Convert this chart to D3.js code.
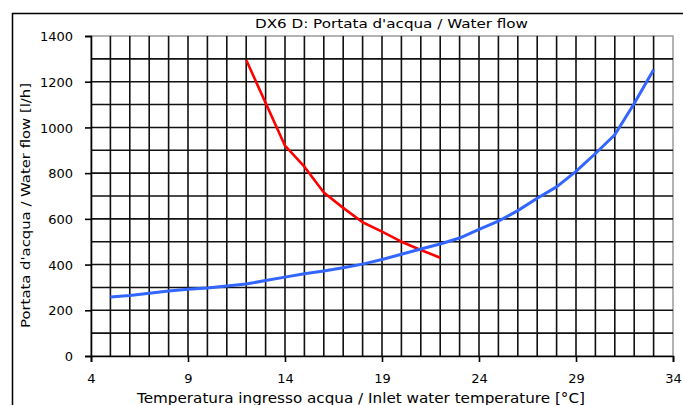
<!DOCTYPE html>
<html>
<head>
<meta charset="utf-8">
<script src="https://cdn.jsdelivr.net/npm/d3@7"></script>
<style>
  html, body { margin: 0; padding: 0; background: #fff; }
  svg { display: block; }
  text { font-family: "DejaVu Sans", Tahoma, sans-serif; fill: #000; }
</style>
</head>
<body>
<svg id="chart" width="683" height="405"></svg>
<script>
// ---- data ----
const title = "DX6  D: Portata d'acqua / Water flow";
const xLabel = "Temperatura ingresso acqua / Inlet water temperature [°C]";
const yLabel = "Portata d'acqua / Water flow [l/h]";

const xTicks = [4, 9, 14, 19, 24, 29, 34];
const yTicks = [0, 200, 400, 600, 800, 1000, 1200, 1400];

// red series
const redX = [12, 14, 15, 16, 17, 18, 19, 20, 21, 22];
const redY = [1295, 920, 828, 715, 648, 585, 544, 500, 464, 430];

// blue series
const blueX = [5, 6, 7, 8, 9, 10, 11, 12, 13, 14, 15, 16, 17, 18, 19,
               20, 21, 22, 23, 24, 25, 26, 27, 28, 29, 30, 31, 32, 33];
const blueY = [258, 265, 275, 284, 292, 298, 306, 315, 330, 345, 360, 372, 386, 402, 422,
               445, 468, 490, 516, 554, 590, 636, 690, 740, 808, 886, 968, 1105, 1252];

// ---- drawing ----
const svg = d3.select("#chart");
const W = 683, H = 405;
const L = 91, R = 673, T = 36, B = 356;

const x = d3.scaleLinear().domain([4, 34]).range([L, R]);
const y = d3.scaleLinear().domain([0, 1400]).range([B, T]);

svg.append("rect").attr("width", W).attr("height", H).attr("fill", "#fff");

// outer chart border (extends past right/bottom edge)
svg.append("rect")
  .attr("x", 12.5).attr("y", 13.5)
  .attr("width", W + 20).attr("height", H + 20)
  .attr("fill", "none").attr("stroke", "#000").attr("stroke-width", 1.5);

// plot area border (grey)
svg.append("rect")
  .attr("x", L).attr("y", T).attr("width", R - L).attr("height", B - T)
  .attr("fill", "#fff").attr("stroke", "#9a9a9a").attr("stroke-width", 1.5);

// grid
const gx = d3.range(5, 34, 1);
const gy = d3.range(100, 1400, 100);
svg.append("g").selectAll("line").data(gx).join("line")
  .attr("x1", d => x(d)).attr("x2", d => x(d))
  .attr("y1", T).attr("y2", B)
  .attr("stroke", "#111").attr("stroke-width", 1.6);
svg.append("g").selectAll("line").data(gy).join("line")
  .attr("x1", L).attr("x2", R)
  .attr("y1", d => y(d)).attr("y2", d => y(d))
  .attr("stroke", "#111").attr("stroke-width", 1.6);

// axes
const xAxis = d3.axisBottom(x).tickValues(xTicks).tickSize(6).tickPadding(8).tickFormat(d3.format("d"));
const yAxis = d3.axisLeft(y).tickValues(yTicks).tickSize(6).tickPadding(12).tickFormat(d3.format("d"));

const gX = svg.append("g").attr("transform", `translate(0,${B})`).call(xAxis);
const gY = svg.append("g").attr("transform", `translate(${L},0)`).call(yAxis);
[gX, gY].forEach(g => {
  g.select(".domain").attr("stroke", "#000").attr("stroke-width", 1.6);
  g.selectAll(".tick line").attr("stroke", "#000").attr("stroke-width", 1.6);
  g.selectAll(".tick text").attr("fill", "#000")
    .style("font-family", '"DejaVu Sans", Tahoma, sans-serif').style("font-size", "13px");
});
gX.selectAll(".tick text").attr("dy", null).attr("y", 27);
gY.selectAll(".tick text").attr("dy", "0.36em");

// series
const line = d3.line().x(d => x(d[0])).y(d => y(d[1]));
const redPts = redX.map((v, i) => [v, redY[i]]);
const bluePts = blueX.map((v, i) => [v, blueY[i]]);

svg.append("path").datum(redPts).attr("d", line)
  .attr("fill", "none").attr("stroke", "#ff0000").attr("stroke-width", 2.6)
  .attr("stroke-linejoin", "round");
svg.append("path").datum(bluePts).attr("d", line)
  .attr("fill", "none").attr("stroke", "#3366ff").attr("stroke-width", 3)
  .attr("stroke-linejoin", "round");

// title
svg.append("text")
  .attr("x", 391.5).attr("y", 28).attr("text-anchor", "middle")
  .attr("textLength", 273).attr("lengthAdjust", "spacingAndGlyphs")
  .style("font-size", "12.5px").text(title);

// x label
svg.append("text")
  .attr("x", 361).attr("y", 403).attr("text-anchor", "middle")
  .attr("textLength", 448).attr("lengthAdjust", "spacingAndGlyphs")
  .style("font-size", "13.5px").text(xLabel);

// y label
svg.append("text")
  .attr("transform", "translate(30,205.5) rotate(-90)")
  .attr("text-anchor", "middle")
  .attr("textLength", 245).attr("lengthAdjust", "spacingAndGlyphs")
  .style("font-size", "13px").text(yLabel);
</script>
</body>
</html>
